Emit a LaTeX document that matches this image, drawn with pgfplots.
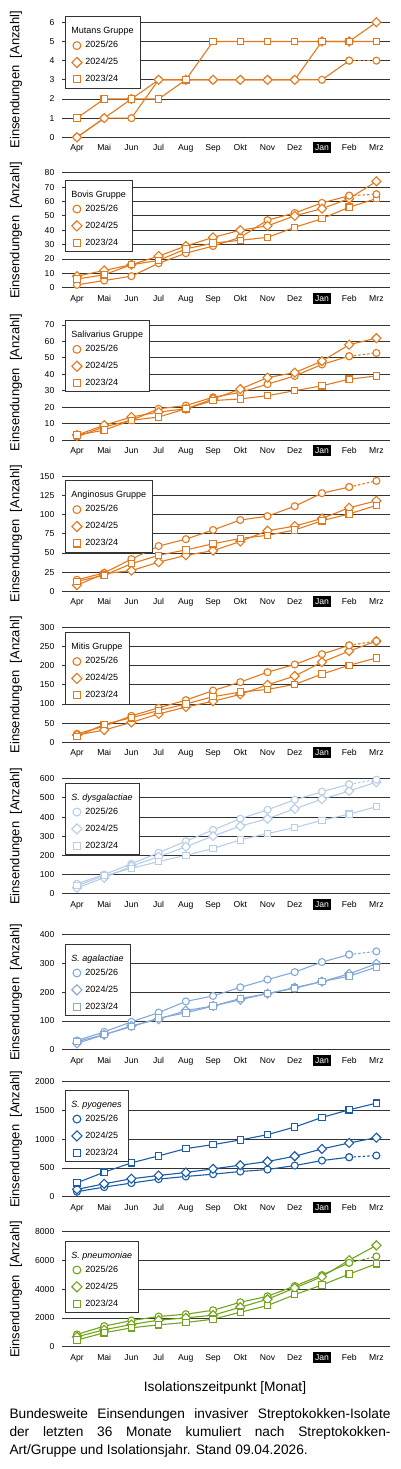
\documentclass[border=0pt]{standalone}
\usepackage{fontspec}
\setmainfont{Liberation Sans}
\usepackage{pgfplots}
\usepackage{pgfplotstable}
\pgfplotsset{compat=1.18}
\setlength{\fboxsep}{2.5pt}

\definecolor{cor}{RGB}{228,121,28}
\definecolor{cdys}{RGB}{184,206,232}
\definecolor{caga}{RGB}{133,169,214}
\definecolor{cpyo}{RGB}{26,92,168}
\definecolor{cpne}{RGB}{115,165,28}

\pgfplotstableread{
m c d s
0 0 0 1
1 1 1 2
2 1 2 2
3 3 3 2
4 3 3 3
5 3 3 5
6 3 3 5
7 3 3 5
8 3 3 5
9 3 5 5
10 4 5 5
11 4 6 5
}\tmut
\pgfplotstableread{
m c d s
0 2 8 6
1 5 12 9
2 8 16 16
3 17 22 19
4 24 29 27
5 29 35 31
6 35 40 33
7 47 43 35
8 52 50 42
9 59 55 48
10 64 62 56
11 65 74 62
}\tbov
\pgfplotstableread{
m c d s
0 2 3 3
1 8 9 6
2 12 14 12
3 19 17 14
4 21 19 19
5 26 25 24
6 29 31 25
7 34 38 27
8 39 41 30
9 46 48 33
10 51 58 37
11 53 62 39
}\tsal
\pgfplotstableread{
m c d s
0 15 8 13
1 24 23 21
2 42 27 36
3 59 38 47
4 68 47 54
5 80 53 62
6 93 65 69
7 98 79 73
8 111 85 80
9 128 95 92
10 136 109 101
11 144 118 112
}\tang
\pgfplotstableread{
m c d s
0 22 19 15
1 42 32 47
2 69 52 64
3 90 74 83
4 110 92 100
5 135 107 119
6 157 125 131
7 183 150 138
8 203 173 151
9 230 209 178
10 253 238 201
11 264 264 220
}\tmit
\pgfplotstableread{
m c d s
0 52 31 42
1 100 83 94
2 156 144 132
3 214 193 168
4 274 245 200
5 333 301 236
6 391 353 281
7 438 391 314
8 490 443 345
9 532 493 383
10 571 536 415
11 595 582 454
}\tdys
\pgfplotstableread{
m c d s
0 32 22 28
1 62 52 53
2 97 83 80
3 129 106 110
4 168 136 128
5 187 152 152
6 217 174 178
7 244 195 195
8 270 216 214
9 305 237 237
10 331 264 256
11 342 299 287
}\taga
\pgfplotstableread{
m c d s
0 87 127 242
1 167 225 427
2 237 312 589
3 306 369 710
4 352 421 837
5 392 485 906
6 438 548 987
7 473 612 1079
8 542 704 1212
9 629 831 1379
10 687 935 1512
11 716 1027 1627
}\tpyo
\pgfplotstableread{
m c d s
0 854 692 462
1 1431 1177 969
2 1823 1546 1315
3 2100 1846 1523
4 2262 2008 1685
5 2538 2192 1915
6 3092 2746 2400
7 3508 3300 2862
8 4223 4085 3623
9 4985 4869 4292
10 5838 6023 5054
11 6277 7050 5769
}\tpne

\pgfplotsset{
  base/.style={
    width=328pt, height=115pt, scale only axis, anchor=south west,
    xmin=-0.55, xmax=11.5, ymin=0, clip=false,
    axis line style={draw=none}, major tick length=0pt,
    ymajorgrids, major grid style={black!80, line width=0.9pt},
    xtick={0,...,11},
    xticklabels={Apr,Mai,Jun,Jul,Aug,Sep,Okt,Nov,Dez,{\colorbox{black}{\textcolor{white}{Jan}}},Feb,Mrz},
    tick label style={font=\fontsize{8.6}{10}\selectfont},
    /pgf/number format/assume math mode=true,
    /pgf/number format/1000 sep={},
    scaled y ticks=false,
    yticklabel style={anchor=east, inner sep=0pt, xshift=-7.5pt},
    xticklabel style={anchor=base, inner sep=0pt, yshift=-13.4pt},
    ylabel={Einsendungen\ \ [Anzahl]},
    every axis y label/.style={at={(axis description cs:-0.1402,0.5)}, rotate=90, anchor=center, font=\fontsize{13}{15}\selectfont},
    legend cell align=left,
    legend style={draw=black!80, line width=0.8pt, fill=white, anchor=north west,
      inner xsep=6.5pt, inner ysep=4.2pt, row sep=7.3pt, column sep=3.5pt,
      nodes={inner sep=0pt, text height=6.8pt, text depth=2.2pt, font=\fontsize{9}{10}\selectfont}},
    legend image code/.code={\draw[##1, every mark/.append style={scale=1.12}] plot coordinates {(0pt,0pt)};},
  },
  mc/.style={line width=1.1pt, mark=*, mark size=3.5pt, mark options={fill=white, solid}},
  md/.style={line width=1.1pt, mark=square*, mark size=3.2pt, mark options={rotate=45, fill=white, solid}},
  ms/.style={line width=1.1pt, mark=square*, mark size=3.2pt, mark options={fill=white, solid}},
}

\newcommand{\panel}[7]{%
\begin{axis}[base, at={(62pt,-#3pt)}, ymax=#4, ytick={0,#5,...,#4}, legend style={at={(0.009,#7)}}]
\addlegendimage{empty legend}
\addlegendentry[text height=12.9pt, text depth=0pt]{\hspace*{-14pt}#6}
\addplot[#2, mc, skip coords between index={11}{12}] table[x=m,y=c]{#1};
\addlegendentry{2025/26}
\addplot[#2, md] table[x=m,y=d]{#1};
\addlegendentry{2024/25}
\addplot[#2, ms] table[x=m,y=s]{#1};
\addlegendentry{2023/24}
\addplot[#2, mc, dash pattern=on 2.5pt off 2pt, forget plot, skip coords between index={0}{10}] table[x=m,y=c]{#1};
\end{axis}}

\begin{document}
\begin{tikzpicture}
\path[use as bounding box] (0,0) rectangle (400pt,-1469pt);
\panel{\tmut}{cor}{137.3}{6}{1}{Mutans Gruppe}{1.052}
\panel{\tbov}{cor}{287.7}{80}{10}{Bovis Gruppe}{0.939}
\panel{\tsal}{cor}{440}{70}{10}{Salivarius Gruppe}{1.043}
\panel{\tang}{cor}{591.3}{150}{25}{Anginosus Gruppe}{0.965}
\panel{\tmit}{cor}{742.3}{300}{50}{Mitis Gruppe}{0.957}
\panel{\tdys}{cdys}{893.7}{600}{100}{\textit{S. dysgalactiae}}{0.965}
\panel{\taga}{caga}{1049.7}{400}{100}{\textit{S. agalactiae}}{0.922}
\panel{\tpyo}{cpyo}{1196.7}{2000}{500}{\textit{S. pyogenes}}{0.930}
\panel{\tpne}{cpne}{1346.7}{8000}{2000}{\textit{S. pneumoniae}}{0.922}
\node[font=\fontsize{13.7}{16}\selectfont] at (225pt,-1388pt) {Isolationszeitpunkt [Monat]};
\node[anchor=north west, inner sep=0pt, text width=381pt, align=justify, font=\fontsize{13.7}{17.7}\selectfont] at (9.3pt,-1408.5pt)
 {Bundesweite Einsendungen invasiver Streptokokken-Isolate\linebreak der letzten 36 Monate kumuliert nach Streptokokken-\linebreak Art/Gruppe und Isolationsjahr. Stand 09.04.2026.};
\end{tikzpicture}
\end{document}
